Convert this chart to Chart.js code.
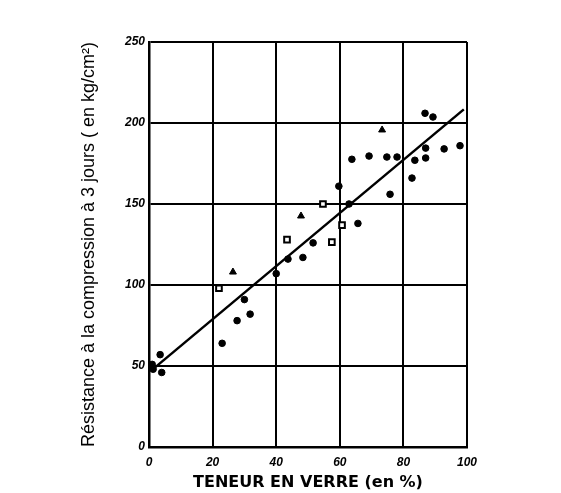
<!DOCTYPE html>
<html>
<head>
<meta charset="utf-8">
<script src="https://cdn.jsdelivr.net/npm/chart.js@4/dist/chart.umd.min.js"></script>
<style>
  html, body { margin: 0; padding: 0; background: #fff; }
  #wrap { width: 561px; height: 493px; }
</style>
</head>
<body>
<div id="wrap"><canvas id="chart" width="561" height="493"></canvas></div>
<script>
// Teneur en verre (%) et résistance à 3 jours (kg/cm²)
const dotX = [1, 3.5, 4, 1.3, 23, 30, 31.8, 27.7, 40, 48.4, 43.7, 51.6, 59.7, 65.7, 75.8, 82.7, 63.8, 69.2, 74.8, 78, 86.8, 89.3, 92.8, 97.8, 87, 87, 83.6, 62.9];
const dotY = [51, 57, 46, 48, 64, 91, 82, 78, 107, 117, 116, 126, 161, 138, 156, 166, 177.6, 179.6, 179, 179, 206, 203.7, 184, 186, 184.5, 178.4, 177, 150];
const squareX = [22, 43.4, 54.7, 57.5, 60.7];
const squareY = [98, 128, 150, 126.5, 137];
const triX = [26.4, 47.8, 73.3];
const triY = [108, 142.6, 195.7];

// droite d'ajustement
const fitX = [2, 99];
const fitY = [49.3, 208.4];

const xTicks = [0, 20, 40, 60, 80, 100];
const yTicks = [0, 50, 100, 150, 200, 250];

const toPoints = (xs, ys) => xs.map((x, i) => ({ x: x, y: ys[i] }));

const tickFont = { family: 'Liberation Sans', size: 12, style: 'italic', weight: 'bold' };

new Chart(document.getElementById('chart'), {
    type: 'scatter',
    data: {
        datasets: [
            {
                label: 'droite',
                type: 'line',
                data: toPoints(fitX, fitY),
                borderColor: '#000',
                borderWidth: 2.5,
                pointRadius: 0,
                fill: false
            },
            {
                label: 'points',
                data: toPoints(dotX, dotY),
                backgroundColor: '#000',
                borderColor: '#000',
                pointRadius: 3.3
            },
            {
                label: 'carrés',
                data: toPoints(squareX, squareY),
                pointStyle: 'rect',
                backgroundColor: '#fff',
                borderColor: '#000',
                borderWidth: 2,
                pointRadius: 4
            },
            {
                label: 'triangles',
                data: toPoints(triX, triY),
                pointStyle: 'triangle',
                backgroundColor: '#000',
                borderColor: '#000',
                pointRadius: 4
            }
        ]
    },
    options: {
        responsive: false,
        animation: false,
        devicePixelRatio: 1,
        layout: { padding: { left: 78, right: 94, top: 42, bottom: 0 } },
        plugins: {
            legend: { display: false },
            tooltip: { enabled: false }
        },
        scales: {
            x: {
                type: 'linear',
                min: 0,
                max: 100,
                afterBuildTicks: scale => { scale.ticks = xTicks.map(v => ({ value: v })); },
                afterFit: scale => { scale.height = 46; },
                grid: { color: '#000', lineWidth: 2, drawTicks: false },
                border: { color: '#000', width: 2.5 },
                ticks: { color: '#000', font: tickFont, padding: 8, maxRotation: 0 },
                title: {
                    display: true,
                    text: 'TENEUR EN VERRE (en %)',
                    color: '#000',
                    font: { family: 'DejaVu Sans', size: 16, weight: 'bold' },
                    padding: { top: 0, bottom: 1 }
                }
            },
            y: {
                type: 'linear',
                min: 0,
                max: 250,
                afterBuildTicks: scale => { scale.ticks = yTicks.map(v => ({ value: v })); },
                afterFit: scale => { scale.width = 71; },
                grid: { color: '#000', lineWidth: 2, drawTicks: false },
                border: { color: '#000', width: 2.5 },
                ticks: { color: '#000', font: tickFont, padding: 4 },
                title: {
                    display: true,
                    text: 'Résistance à la compression à 3 jours ( en kg/cm²)',
                    color: '#000',
                    font: { family: 'Liberation Sans', size: 18 },
                    padding: 0
                }
            }
        }
    }
});
</script>
</body>
</html>
